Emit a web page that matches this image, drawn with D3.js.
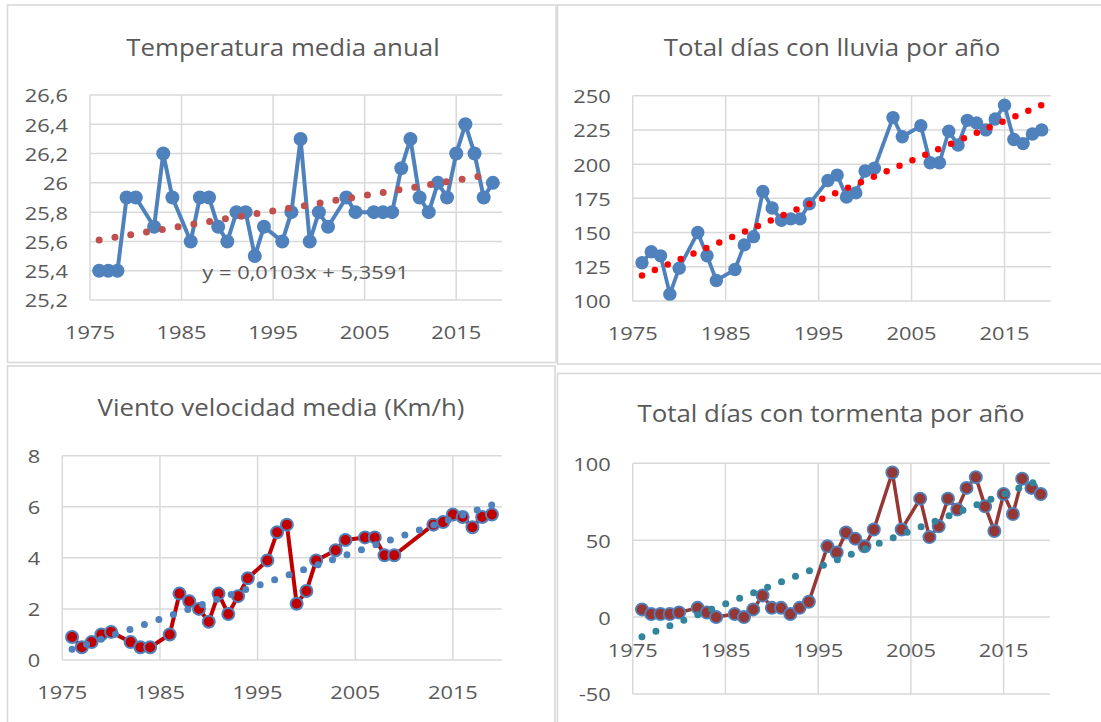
<!DOCTYPE html>
<html><head><meta charset="utf-8">
<script src="https://cdn.jsdelivr.net/npm/d3@7"></script>
<style>body{margin:0;background:#fff} svg{display:block}</style>
</head><body><svg id="c" width="1101" height="722"></svg>
<script>
// ---------- data ----------
const years = [1976,1977,1978,1979,1980,1982,1983,1984,1986,1987,1988,1989,1990,1991,1992,1993,1994,1996,1997,1998,1999,2000,2001,2003,2004,2006,2007,2008,2009,2010,2011,2012,2013,2014,2015,2016,2017,2018,2019];
const windYears = [1976,1977,1978,1979,1980,1982,1983,1984,1986,1987,1988,1989,1990,1991,1992,1993,1994,1996,1997,1998,1999,2000,2001,2003,2004,2006,2007,2008,2009,2013,2014,2015,2016,2017,2018,2019];

const temperature = [25.4,25.4,25.4,25.9,25.9,25.7,26.2,25.9,25.6,25.9,25.9,25.7,25.6,25.8,25.8,25.5,25.7,25.6,25.8,26.3,25.6,25.8,25.7,25.9,25.8,25.8,25.8,25.8,26.1,26.3,25.9,25.8,26.0,25.9,26.2,26.4,26.2,25.9,26.0];
const rainDays = [128,136,133,105,124,150,133,115,123,141,147,180,168,159,160,160,171,188,192,176,179,195,197,234,220,228,201,201,224,214,232,230,225,233,243,218,215,222,225];
const windSpeed = [0.9,0.5,0.7,1.0,1.1,0.7,0.5,0.5,1.0,2.6,2.3,2.0,1.5,2.6,1.8,2.5,3.2,3.9,5.0,5.3,2.2,2.7,3.9,4.3,4.7,4.8,4.8,4.1,4.1,5.3,5.4,5.7,5.6,5.2,5.6,5.7];
const stormDays = [5,2,2,2,3,6,3,0,2,0,5,14,6,6,2,6,10,46,42,55,51,46,57,94,57,77,52,59,77,70,84,91,72,56,80,67,90,84,80];

// linear trend end points at first / last year
const trendYears = [1976, 2019];
const tempTrend = [25.61, 26.06];
const rainTrend = [118.6, 243.2];
const windTrend = [0.42, 6.07];
const stormTrend = [-12.7, 89.4];

const xTicks = [1975,1985,1995,2005,2015];
const tempTicks = [25.2,25.4,25.6,25.8,26.0,26.2,26.4,26.6];
const rainTicks = [100,125,150,175,200,225,250];
const windTicks = [0,2,4,6,8];
const stormTicks = [-50,0,50,100];

const titles = ["Temperatura media anual","Total días con lluvia por año","Viento velocidad media (Km/h)","Total días con tormenta por año"];
const equation = "y = 0,0103x + 5,3591";

// ---------- drawing ----------
const svg = d3.select("#c");
const FONT = "'Open Sans', sans-serif";
const TXT = "#595959", GRID = "#D9D9D9";
const TICK_SIZE = 19, TICK_SX = 1.15, TITLE_SIZE = 23.5, TITLE_SX = 1.1;

function addText(g, x, y, s, size, anchor, sx) {
  return g.append("text")
    .attr("transform", `translate(${x},${y}) scale(${sx},1)`)
    .attr("text-anchor", anchor).attr("dominant-baseline", "central")
    .attr("font-family", FONT).attr("font-size", size).attr("fill", TXT).text(s);
}
const fmt = d => String(+d.toFixed(1)).replace(".", ",");

function panel(cfg) {
  const g = svg.append("g");
  const [bx0, by0, bx1, by1] = cfg.box;
  g.append("rect").attr("x", bx0).attr("y", by0).attr("width", bx1 - bx0).attr("height", by1 - by0)
    .attr("fill", "#fff").attr("stroke", GRID).attr("stroke-width", 1.6);
  const x = d3.scaleLinear().domain([1975, 2020]).range([cfg.left, cfg.right]);
  const y = d3.scaleLinear().domain(cfg.yDomain).range([cfg.bottom, cfg.top]);

  // gridlines
  g.selectAll(null).data(cfg.yTicks).enter().append("line")
    .attr("x1", cfg.left).attr("x2", cfg.right).attr("y1", d => y(d)).attr("y2", d => y(d))
    .attr("stroke", GRID).attr("stroke-width", 1.5);
  g.selectAll(null).data(xTicks).enter().append("line")
    .attr("x1", d => x(d)).attr("x2", d => x(d)).attr("y1", cfg.top).attr("y2", cfg.bottom)
    .attr("stroke", GRID).attr("stroke-width", 1.5);

  // tick labels
  cfg.yTicks.forEach(t => addText(g, cfg.left - 22, y(t), fmt(t), TICK_SIZE, "end", TICK_SX));
  const xl = cfg.xAxisAt !== undefined ? y(cfg.xAxisAt) : cfg.bottom;
  xTicks.forEach(t => addText(g, x(t), xl + 32, String(t), TICK_SIZE, "middle", TICK_SX));

  // title
  addText(g, cfg.titlePos[0], cfg.titlePos[1], cfg.title, TITLE_SIZE, "middle", TITLE_SX);

  // series line
  const line = d3.line().x(d => x(d[0])).y(d => y(d[1]));
  const pts = cfg.xs.map((v, i) => [v, cfg.ys[i]]);
  g.append("path").datum(pts).attr("d", line).attr("fill", "none")
    .attr("stroke", cfg.lineColor).attr("stroke-width", cfg.lineWidth).attr("stroke-linejoin", "round");
  g.selectAll(null).data(pts).enter().append("circle")
    .attr("cx", d => x(d[0])).attr("cy", d => y(d[1])).attr("r", cfg.r)
    .attr("fill", cfg.markerFill).attr("stroke", cfg.markerStroke).attr("stroke-width", cfg.markerStrokeW);

  // dotted trend line
  const tp = trendYears.map((v, i) => [v, cfg.trend[i]]);
  g.append("path").datum(tp).attr("d", line).attr("fill", "none")
    .attr("stroke", cfg.trendColor).attr("stroke-width", cfg.trendDot)
    .attr("stroke-linecap", "round").attr("stroke-dasharray", `0 ${cfg.trendGap}`);
  return { g, x, y };
}

const p1 = panel({
  box: [7.5, 5, 556, 362.5], left: 90, right: 502, top: 95, bottom: 300,
  yDomain: [25.2, 26.6], yTicks: tempTicks, titlePos: [283, 47], title: titles[0],
  xs: years, ys: temperature, lineColor: "#4F81BD", lineWidth: 4, r: 7,
  markerFill: "#4F81BD", markerStroke: "#4F81BD", markerStrokeW: 0,
  trend: tempTrend, trendColor: "#C0504D", trendDot: 7, trendGap: 16
});
addText(p1.g, 305.5, 271.5, equation, TICK_SIZE, "middle", TICK_SX);

panel({
  box: [557.5, 5, 1110, 364], left: 632.7, right: 1051, top: 95.7, bottom: 301,
  yDomain: [100, 250], yTicks: rainTicks, titlePos: [832, 47], title: titles[1],
  xs: years, ys: rainDays, lineColor: "#4F81BD", lineWidth: 3.8, r: 6.7,
  markerFill: "#4F81BD", markerStroke: "#4F81BD", markerStrokeW: 0,
  trend: rainTrend, trendColor: "#FF0000", trendDot: 6.5, trendGap: 14
});

panel({
  box: [7.5, 366, 555, 730], left: 62.3, right: 501.7, top: 455.7, bottom: 660,
  yDomain: [0, 8], yTicks: windTicks, titlePos: [281, 407], title: titles[2],
  xs: windYears, ys: windSpeed, lineColor: "#C00000", lineWidth: 4, r: 6,
  markerFill: "#C00000", markerStroke: "#4F81BD", markerStrokeW: 2,
  trend: windTrend, trendColor: "#4F81BD", trendDot: 7, trendGap: 15.3
});

panel({
  box: [557.5, 373.5, 1110, 730], left: 632.7, right: 1050, top: 463.3, bottom: 694,
  yDomain: [-50, 100], yTicks: stormTicks, xAxisAt: 0, titlePos: [831, 413], title: titles[3],
  xs: years, ys: stormDays, lineColor: "#953735", lineWidth: 3.5, r: 6.1,
  markerFill: "#953735", markerStroke: "#4F81BD", markerStrokeW: 1.8,
  trend: stormTrend, trendColor: "#31859C", trendDot: 7, trendGap: 15
});
</script></body></html>
